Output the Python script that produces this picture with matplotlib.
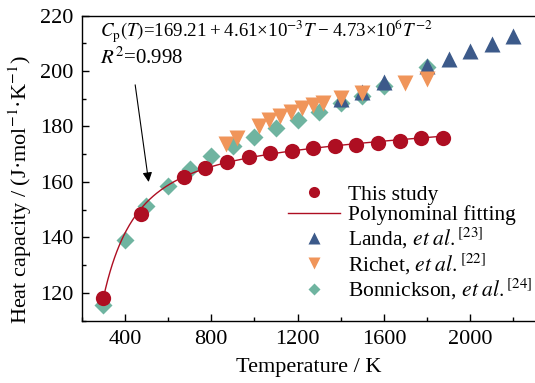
import numpy as np
import matplotlib
matplotlib.use("Agg")
import matplotlib.pyplot as plt
from matplotlib.lines import Line2D

plt.rcParams["font.family"] = ["Liberation Serif", "DejaVu Serif"]
plt.rcParams["mathtext.fontset"] = "stix"
plt.rcParams["font.size"] = 16

# This study
T_this = [300, 473, 673, 773, 873, 973, 1073, 1173, 1273, 1373, 1473, 1573, 1673, 1773, 1873]
Cp_this = [118.1, 148.4, 161.8, 164.9, 167.3, 169.1, 170.3, 171.3, 172.1, 172.8, 173.5, 174.2, 174.8, 175.7, 175.8]

# Landa et al.
T_landa = [1400, 1500, 1600, 1800, 1900, 2000, 2100, 2200]
Cp_landa = [189.8, 192.4, 196.0, 201.7, 204.3, 207.1, 209.8, 212.5]

# Richet et al.
T_richet = [870, 920, 1020, 1070, 1120, 1170, 1220, 1270, 1320, 1400, 1500, 1700, 1800]
Cp_richet = [173.8, 176.0, 180.3, 182.2, 183.7, 185.3, 186.5, 187.7, 188.6, 190.3, 192.2, 195.6, 197.0]

# Bonnickson et al.
T_bonn = [300, 400, 500, 600, 700, 800, 900, 1000, 1100, 1200, 1300, 1400, 1500, 1600, 1800]
Cp_bonn = [115.8, 139.1, 151.2, 158.6, 164.6, 169.3, 173.1, 176.3, 179.4, 182.3, 185.3, 188.4, 190.9, 194.5, 201.5]

# fitted coefficients  Cp = a + b*T + c*T^-2
a, b, c = 169.21, 4.61e-3, -4.73e6

red = "#AE0E22"
blue = "#3C5A8A"
orange = "#F0955A"
teal = "#6FB4A0"

fig = plt.figure(figsize=(5.35, 3.83), dpi=100)
ax = fig.add_axes([0.1527, 0.1627, 0.8473, 0.7968])

ax.plot(T_bonn, Cp_bonn, "D", color=teal, ms=9, mec="none", zorder=2)
ax.plot(T_landa, Cp_landa, "^", color=blue, ms=11, mec="none", zorder=3)
ax.plot(T_richet, Cp_richet, "v", color=orange, ms=11, mec="none", zorder=4)
Tfit = np.linspace(T_this[0], T_this[-1], 300)
ax.plot(Tfit, a + b * Tfit + c * Tfit ** -2, "-", color=red, lw=1, zorder=5)
ax.plot(T_this, Cp_this, "o", color=red, ms=11, mec="none", zorder=6)

ax.set_xlim(200, 2300)
ax.set_ylim(110, 220)
ax.set_xticks([400, 800, 1200, 1600, 2000])
ax.set_xticks(np.arange(200, 2300, 200), minor=True)
ax.set_yticks([120, 140, 160, 180, 200, 220])
ax.set_yticks(np.arange(110, 221, 10), minor=True)
ax.tick_params(which="both", direction="in", top=False, right=False)
ax.tick_params(which="major", length=5, width=1, labelsize=16)
ax.tick_params(axis="x", which="major", pad=7)
ax.tick_params(axis="y", which="major", pad=6)
ax.tick_params(which="minor", length=3, width=1)
ax.spines["right"].set_visible(False)
for s in ["left", "bottom", "top"]:
    ax.spines[s].set_linewidth(1)

ax.set_xlabel("Temperature / K", fontsize=16, labelpad=6)
ax.set_ylabel("Heat capacity / (J·mol$^{-1}$·K$^{-1}$)", fontsize=16)
ax.yaxis.set_label_coords(-0.105, 0.43)

ax.text(0.04, 0.93, "$C_\\mathrm{p}(T)$=169.21\u2009+\u20094.61×10$^{-3}$$T$\u2009−\u20094.73×10$^{6}$$T^{-2}$",
        transform=ax.transAxes, ha="left", va="baseline", fontsize=13.6)
ax.text(0.04, 0.842, r"$R^2$=0.998", transform=ax.transAxes, ha="left", va="baseline", fontsize=15)
ax.annotate("", xy=(512, 159), xytext=(446, 196),
            arrowprops=dict(arrowstyle="-|>", color="black", lw=0.8, mutation_scale=14))

handles = [
    Line2D([], [], ls="none", marker="o", color=red, ms=8, mec="none"),
    Line2D([], [], ls="-", color=red, lw=1),
    Line2D([], [], ls="none", marker="^", color=blue, ms=8, mec="none"),
    Line2D([], [], ls="none", marker="v", color=orange, ms=8, mec="none"),
    Line2D([], [], ls="none", marker="D", color=teal, ms=6.5, mec="none"),
]
labels = ["This study", "Polynominal fitting", r"Landa, $\mathit{et\;al.}^{[23]}$",
          r"Richet, $\mathit{et\;al.}^{[22]}$", r"Bonnickson, $\mathit{et\;al.}^{[24]}$"]
ax.legend(handles, labels, loc="lower right", bbox_to_anchor=(0.995, 0.06), frameon=False,
          handlelength=2.45, handletextpad=0.36, labelspacing=0.02, borderpad=0,
          borderaxespad=0, fontsize=15.5)

fig.savefig("out.png", dpi=100)
